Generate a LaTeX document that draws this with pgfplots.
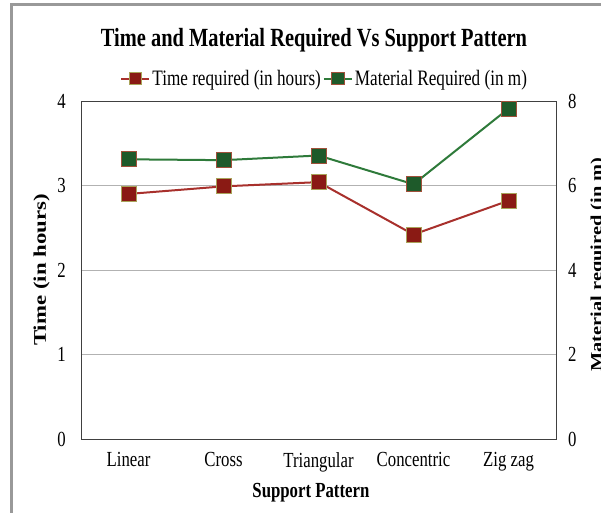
\documentclass[border=0pt]{standalone}
\usepackage{fontspec}
\setmainfont{Liberation Serif}[FakeStretch=0.78]
\newfontfamily\plainserif{Liberation Serif}
\usepackage{graphicx}
\usepackage{pgfplots}
\pgfplotsset{compat=1.18}
\definecolor{tline}{HTML}{A8302C}
\definecolor{tfill}{HTML}{8A1A14}
\definecolor{tedge}{HTML}{A9A35A}
\definecolor{mline}{HTML}{2E7A3A}
\definecolor{mfill}{HTML}{1E5A2A}
\definecolor{medge}{HTML}{A0503A}
\begin{document}
\begin{tikzpicture}[x=1pt,y=1pt]
\useasboundingbox (-81,-73) rectangle (520,439);
\clip (-81,-73) rectangle (520,439);
\fill[white] (-81,-73) rectangle (520,439);
\draw[black!40, line width=3pt] (-69,-90) -- (-69,434) -- (540,434);
\node[font=\bfseries\fontsize{26.2}{30}\selectfont] at (233,399) {Time and Material Required Vs Support Pattern};
\begin{axis}[
  at={(0,0)}, anchor=south west,
  scale only axis, width=475pt, height=338pt,
  xmin=-0.5, xmax=4.5, ymin=0, ymax=4,
  xtick={0,1,2,3,4},
  xticklabels={Linear,Cross,Triangular,Concentric,Zig zag},
  ytick={0,1,2,3,4},
  ytick pos=left, xtick pos=bottom,
  ymajorgrids, grid style={black!30, line width=0.8pt},
  major tick length=0pt,
  axis line style={black!75, line width=1pt},
  /pgf/number format/assume math mode=true,
  tick label style={font=\fontsize{21.5}{25}\selectfont},
  yticklabel style={inner sep=0pt, xshift=-15pt},
  xticklabel style={inner sep=0pt, yshift=-13pt},
  ylabel={\scalebox{1}[0.78]{\plainserif\bfseries\fontsize{22.8}{26}\selectfont Time (in hours)}},
  ylabel style={at={(axis description cs:-0.083,0.5)}, anchor=center, inner sep=0pt},
  xlabel={Support Pattern},
  xlabel style={at={(axis description cs:0.484,-0.16)}, anchor=center, font=\bfseries\fontsize{21.5}{25}\selectfont},
]
\addplot[tline, line width=2pt, mark=square*, mark size=7.5pt, mark options={fill=tfill, draw=tedge, line width=0.8pt}]
  coordinates {(0,2.90) (1,2.99) (2,3.04) (3,2.42) (4,2.82)};
\end{axis}
\begin{axis}[
  at={(0,0)}, anchor=south west,
  scale only axis, width=475pt, height=338pt,
  xmin=-0.5, xmax=4.5, ymin=0, ymax=8,
  axis x line=none, axis y line*=right,
  ytick={0,2,4,6,8},
  major tick length=0pt,
  axis line style={black!75, line width=1pt},
  /pgf/number format/assume math mode=true,
  tick label style={font=\fontsize{21.5}{25}\selectfont},
  yticklabel style={inner sep=0pt, xshift=12pt},
  ylabel={\scalebox{1}[0.78]{\plainserif\bfseries\fontsize{20.4}{24}\selectfont Material required (in m)}},
  ylabel style={at={(axis description cs:1.088,0.516)}, anchor=center, rotate=0, inner sep=0pt},
  legend style={at={(0.513,1.035)}, anchor=south, draw=none, fill=none, legend columns=2, font=\fontsize{22}{26}\selectfont, inner sep=0pt},
  legend image code/.code={\draw[mark repeat=2,mark phase=2,#1,mark size=6.3pt] plot coordinates {(0pt,0pt) (14pt,0pt) (28pt,0pt)};},
]
\addlegendimage{tline, line width=2pt, mark=square*, mark size=7.5pt, mark options={fill=tfill, draw=tedge, line width=0.8pt}}
\addlegendentry{Time required (in hours)}
\addplot[mline, line width=2pt, mark=square*, mark size=7.5pt, mark options={fill=mfill, draw=medge, line width=0.8pt}]
  coordinates {(0,6.62) (1,6.60) (2,6.71) (3,6.03) (4,7.82)};
\addlegendentry{Material Required (in m)}
\end{axis}
\end{tikzpicture}
\end{document}
